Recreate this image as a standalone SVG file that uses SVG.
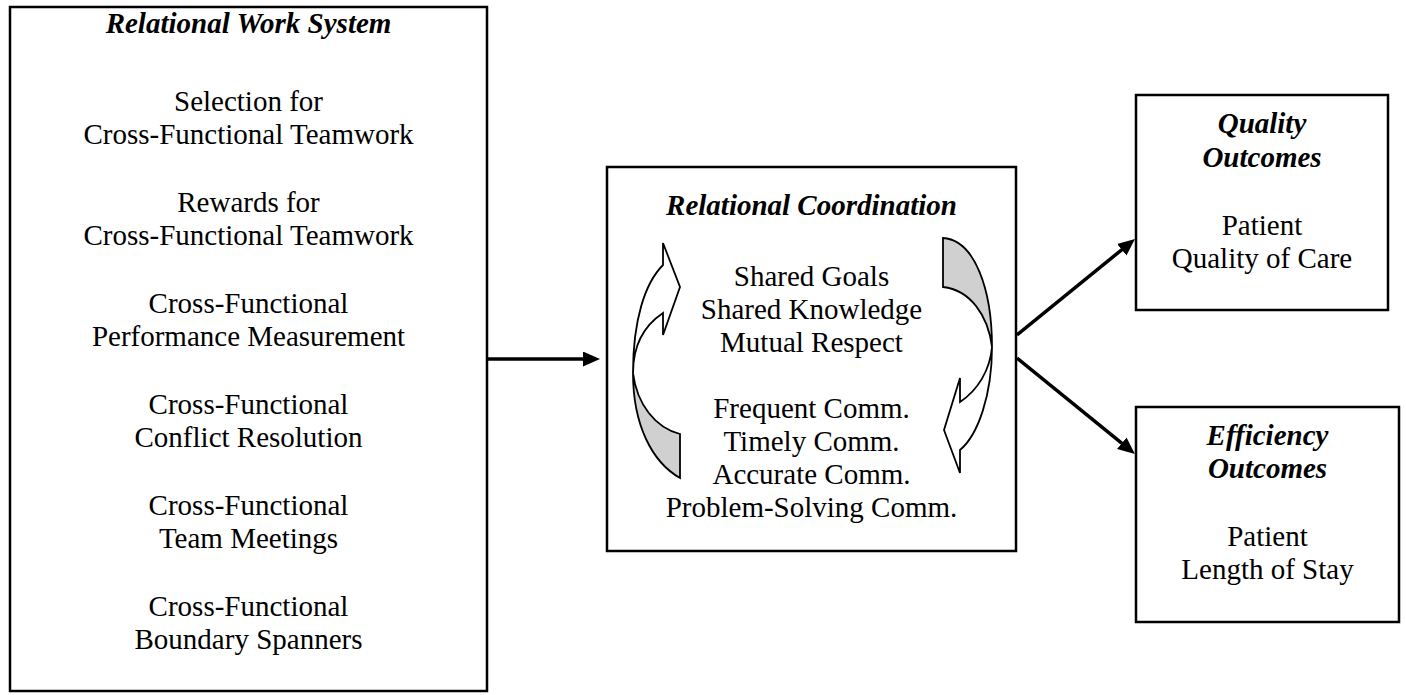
<svg xmlns="http://www.w3.org/2000/svg" width="1406" height="695" viewBox="0 0 1406 695">
  <style>
    .box { fill: #ffffff; stroke: #000000; stroke-width: 2.5; }
    .t { font-family: "Liberation Serif", "Times New Roman", serif; font-size: 29px; fill: #000000; text-anchor: middle; }
    .h { font-weight: bold; font-style: italic; }
    .conn { stroke: #000000; stroke-width: 3.5; fill: none; }
    .band { fill: #ffffff; stroke: #000000; stroke-width: 1.8; stroke-linejoin: miter; }
    .back { fill: #d0d0d0; stroke: #000000; stroke-width: 1.8; }
  </style>
  <defs>
    <marker id="ah" markerUnits="userSpaceOnUse" markerWidth="18" markerHeight="16" refX="7" refY="7.5" orient="auto">
      <path d="M0,0 L17,7.5 L0,15 Z" fill="#000000"/>
    </marker>
  </defs>
  <rect width="1406" height="695" fill="#ffffff"/>

  <g id="relational-work-system">
    <rect class="box" x="10" y="7" width="477" height="684"/>
    <text class="t h" x="248.5" y="33">Relational Work System</text>
    <text class="t" x="248.5" y="111">Selection for</text>
    <text class="t" x="248.5" y="144">Cross-Functional Teamwork</text>
    <text class="t" x="248.5" y="212">Rewards for</text>
    <text class="t" x="248.5" y="245">Cross-Functional Teamwork</text>
    <text class="t" x="248.5" y="313">Cross-Functional</text>
    <text class="t" x="248.5" y="346">Performance Measurement</text>
    <text class="t" x="248.5" y="414">Cross-Functional</text>
    <text class="t" x="248.5" y="447">Conflict Resolution</text>
    <text class="t" x="248.5" y="515">Cross-Functional</text>
    <text class="t" x="248.5" y="548">Team Meetings</text>
    <text class="t" x="248.5" y="616">Cross-Functional</text>
    <text class="t" x="248.5" y="649">Boundary Spanners</text>
  </g>

  <g id="relational-coordination">
    <rect class="box" x="607" y="167" width="409" height="384"/>
    <text class="t h" x="811.5" y="215">Relational Coordination</text>
    <text class="t" x="811.5" y="286">Shared Goals</text>
    <text class="t" x="811.5" y="319">Shared Knowledge</text>
    <text class="t" x="811.5" y="352">Mutual Respect</text>
    <text class="t" x="811.5" y="418">Frequent Comm.</text>
    <text class="t" x="811.5" y="451">Timely Comm.</text>
    <text class="t" x="811.5" y="484">Accurate Comm.</text>
    <text class="t" x="811.5" y="517">Problem-Solving Comm.</text>
    <g id="cycle-left">
      <path class="back" d="M633,373 C633,425 652,462 680,478 L680,434 C656,428 637,405 633,373 Z"/>
      <path class="band" d="M633,373 C633,320 645,283 663,265 L663,243 L680,287 L663,335 L663,313 C645,325 633,345 633,373 Z"/>
    </g>
    <g id="cycle-right">
      <path class="back" d="M943,238 C975,240 992,290 992,347 C988,315 970,290 943,287 Z"/>
      <path class="band" d="M992,347 C992,395 978,435 960,450 L960,473 L944,430 L960,378 L960,402 C978,390 990,370 992,347 Z"/>
    </g>
  </g>

  <g id="quality-outcomes">
    <rect class="box" x="1136" y="95" width="252" height="215"/>
    <text class="t h" x="1262" y="133">Quality</text>
    <text class="t h" x="1262" y="167">Outcomes</text>
    <text class="t" x="1262" y="235">Patient</text>
    <text class="t" x="1262" y="268">Quality of Care</text>
  </g>

  <g id="efficiency-outcomes">
    <rect class="box" x="1136" y="407" width="263" height="215"/>
    <text class="t h" x="1267.5" y="445">Efficiency</text>
    <text class="t h" x="1267.5" y="478">Outcomes</text>
    <text class="t" x="1267.5" y="546">Patient</text>
    <text class="t" x="1267.5" y="579">Length of Stay</text>
  </g>

  <g id="connectors">
    <line class="conn" x1="488" y1="359" x2="590" y2="359" marker-end="url(#ah)"/>
    <line class="conn" x1="1017" y1="335" x2="1127.2" y2="245.3" marker-end="url(#ah)"/>
    <line class="conn" x1="1017" y1="358" x2="1127.2" y2="447.7" marker-end="url(#ah)"/>
  </g>
</svg>
